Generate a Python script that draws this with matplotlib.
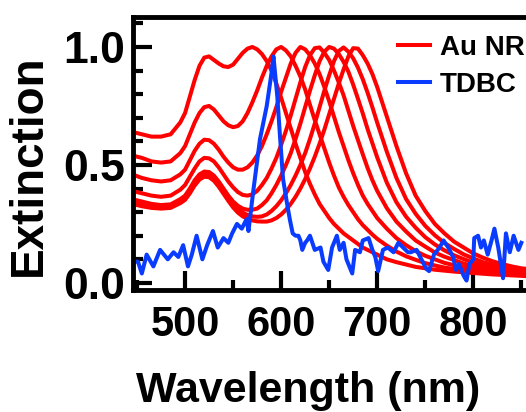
import matplotlib.pyplot as plt
from matplotlib.ticker import MultipleLocator, FormatStrFormatter

plt.rcParams['font.family'] = ['Liberation Sans', 'DejaVu Sans']
plt.rcParams['font.weight'] = 'bold'

# wavelength grid (nm) for the Au nanorod spectra
wavelength_nr = [445, 455, 465, 475, 485, 495] + list(range(500, 705, 5)) + list(range(710, 870, 10))

# normalised extinction of the seven Au NR samples (short -> long LSPR)
nr_1 = [0.64, 0.63, 0.62, 0.62, 0.63, 0.68,
        0.72, 0.79, 0.86, 0.92, 0.955, 0.96, 0.945, 0.93, 0.918, 0.915,
        0.925, 0.95, 0.975, 0.993, 1.0, 0.99, 0.97, 0.94, 0.90, 0.845,
        0.785, 0.72, 0.655, 0.59, 0.53, 0.47, 0.42, 0.375, 0.335, 0.305,
        0.275, 0.25, 0.23, 0.21, 0.195, 0.18, 0.165, 0.15, 0.14, 0.13,
        0.12,
        0.10, 0.088, 0.078, 0.068, 0.062, 0.056, 0.052, 0.048, 0.045, 0.042, 0.039, 0.036, 0.034, 0.032, 0.03, 0.028]
nr_2 = [0.54, 0.53, 0.515, 0.51, 0.515, 0.55,
        0.58, 0.63, 0.68, 0.72, 0.745, 0.75, 0.735, 0.71, 0.685, 0.668,
        0.66, 0.665, 0.685, 0.72, 0.765, 0.815, 0.87, 0.92, 0.96, 0.99,
        1.0, 0.985, 0.96, 0.92, 0.875, 0.82, 0.755, 0.69, 0.63, 0.57,
        0.51, 0.455, 0.405, 0.365, 0.33, 0.3, 0.27, 0.245, 0.225, 0.205,
        0.187,
        0.158, 0.133, 0.113, 0.098, 0.084, 0.074, 0.065, 0.059, 0.054, 0.05, 0.046, 0.043, 0.04, 0.037, 0.034, 0.032]
nr_3 = [0.46, 0.445, 0.435, 0.43, 0.435, 0.46,
        0.48, 0.52, 0.56, 0.59, 0.607, 0.605, 0.59, 0.565, 0.535, 0.51,
        0.49, 0.48, 0.48, 0.49, 0.51, 0.54, 0.58, 0.63, 0.685, 0.745,
        0.81, 0.87, 0.93, 0.975, 1.0, 0.99, 0.965, 0.93, 0.885, 0.83,
        0.77, 0.705, 0.64, 0.58, 0.52, 0.465, 0.415, 0.37, 0.335, 0.305,
        0.275,
        0.23, 0.19, 0.16, 0.135, 0.115, 0.10, 0.085, 0.075, 0.066, 0.059, 0.053, 0.048, 0.044, 0.04, 0.037, 0.034]
nr_4 = [0.39, 0.38, 0.37, 0.365, 0.37, 0.395,
        0.415, 0.45, 0.485, 0.515, 0.53, 0.528, 0.515, 0.49, 0.46, 0.43,
        0.405, 0.385, 0.373, 0.37, 0.375, 0.39, 0.415, 0.445, 0.485, 0.53,
        0.585, 0.645, 0.71, 0.78, 0.85, 0.915, 0.965, 0.995, 0.998, 0.975,
        0.945, 0.90, 0.85, 0.795, 0.73, 0.665, 0.605, 0.545, 0.487, 0.435,
        0.39,
        0.317, 0.26, 0.218, 0.18, 0.154, 0.129, 0.111, 0.097, 0.082, 0.072, 0.063, 0.058, 0.053, 0.049, 0.045, 0.042]
nr_5 = [0.355, 0.345, 0.335, 0.33, 0.333, 0.355,
        0.37, 0.40, 0.435, 0.46, 0.472, 0.47, 0.455, 0.43, 0.40, 0.37,
        0.345, 0.327, 0.315, 0.31, 0.31, 0.315, 0.33, 0.35, 0.38, 0.415,
        0.455, 0.50, 0.55, 0.61, 0.675, 0.745, 0.815, 0.88, 0.94, 0.98,
        1.0, 0.993, 0.97, 0.937, 0.895, 0.84, 0.78, 0.718, 0.652, 0.592,
        0.532,
        0.425, 0.342, 0.281, 0.234, 0.194, 0.163, 0.138, 0.117, 0.101, 0.086, 0.076, 0.066, 0.06, 0.055, 0.05, 0.047]
nr_6 = [0.345, 0.335, 0.328, 0.325, 0.328, 0.348,
        0.362, 0.39, 0.425, 0.45, 0.462, 0.46, 0.445, 0.42, 0.39, 0.36,
        0.333, 0.312, 0.298, 0.288, 0.282, 0.28, 0.282, 0.29, 0.305, 0.325,
        0.35, 0.38, 0.415, 0.455, 0.50, 0.55, 0.61, 0.675, 0.745, 0.815,
        0.88, 0.94, 0.983, 0.998, 0.98, 0.952, 0.912, 0.863, 0.806, 0.744,
        0.679,
        0.556, 0.445, 0.356, 0.293, 0.242, 0.202, 0.169, 0.144, 0.121, 0.104, 0.088, 0.078, 0.068, 0.061, 0.056, 0.052]
nr_7 = [0.335, 0.325, 0.318, 0.315, 0.318, 0.338,
        0.352, 0.38, 0.413, 0.438, 0.45, 0.448, 0.433, 0.408, 0.378, 0.348,
        0.32, 0.298, 0.282, 0.272, 0.265, 0.261, 0.26, 0.26, 0.265, 0.275,
        0.29, 0.31, 0.335, 0.365, 0.40, 0.44, 0.485, 0.535, 0.59, 0.65,
        0.715, 0.78, 0.845, 0.905, 0.96, 0.995, 0.993, 0.965, 0.93, 0.885,
        0.83,
        0.705, 0.58, 0.465, 0.37, 0.305, 0.25, 0.21, 0.175, 0.15, 0.125, 0.107, 0.092, 0.08, 0.07, 0.062, 0.058]
nr_spectra = [nr_1, nr_2, nr_3, nr_4, nr_5, nr_6, nr_7]

# TDBC J-aggregate spectrum (noisy)
wavelength_tdbc = [447, 451, 455, 460, 467, 474, 482, 488, 493, 498, 503, 507, 512, 518, 523, 529,
                   534, 540, 545, 549, 554, 559, 564, 566, 571, 578, 585, 590, 592, 596, 599, 602,
                   606, 609, 612, 615, 618, 620, 622, 625, 627, 630, 635, 641, 644, 649, 653, 658,
                   661, 665, 668, 674, 677, 682, 685, 691, 695, 698, 701, 706, 711, 717, 722, 727,
                   732, 735, 741, 746, 751, 754, 759, 765, 769, 774, 779, 782, 785, 790, 793, 796,
                   800, 801, 805, 808, 811, 815, 819, 822, 826, 831, 834, 838, 842, 847, 850]
extinction_tdbc = [0.09, 0.09, 0.04, 0.12, 0.07, 0.14, 0.10, 0.13, 0.11, 0.16, 0.07, 0.12, 0.20, 0.10, 0.16, 0.22,
                   0.15, 0.19, 0.17, 0.21, 0.25, 0.23, 0.27, 0.22, 0.39, 0.61, 0.75, 0.89, 0.96, 0.79, 0.61, 0.44,
                   0.34, 0.27, 0.21, 0.20, 0.20, 0.18, 0.14, 0.17, 0.18, 0.20, 0.14, 0.15, 0.09, 0.055, 0.15, 0.20,
                   0.14, 0.17, 0.10, 0.04, 0.14, 0.13, 0.18, 0.19, 0.14, 0.11, 0.05, 0.14, 0.15, 0.13, 0.17, 0.15,
                   0.13, 0.13, 0.14, 0.10, 0.06, 0.05, 0.12, 0.15, 0.18, 0.15, 0.11, 0.055, 0.08, 0.03, 0.01, 0.08,
                   0.10, 0.19, 0.20, 0.15, 0.18, 0.12, 0.18, 0.23, 0.15, 0.02, 0.21, 0.13, 0.20, 0.14, 0.17]

fig = plt.figure(figsize=(5.26, 4.12), dpi=100)
ax = fig.add_axes([133 / 526, 1 - 290 / 412, 396 / 526, 273 / 412])

for i, spec in enumerate(nr_spectra):
    ax.plot(wavelength_nr, spec, color='#ff0000', lw=2.9, label='Au NR' if i == 0 else None)
ax.plot(wavelength_tdbc, extinction_tdbc, color='#0a3cff', lw=2.9, label='TDBC')

ax.set_xlim(445.8, 858)
ax.set_ylim(-0.03, 1.127)

ax.xaxis.set_major_locator(MultipleLocator(100))
ax.xaxis.set_minor_locator(MultipleLocator(50))
ax.yaxis.set_major_locator(MultipleLocator(0.5))
ax.yaxis.set_minor_locator(MultipleLocator(0.1))
ax.yaxis.set_major_formatter(FormatStrFormatter('%.1f'))

ax.tick_params(which='major', direction='in', length=14, width=3, pad=6)
ax.tick_params(which='minor', direction='in', length=7, width=3)
ax.tick_params(axis='x', labelsize=30, pad=11)
ax.tick_params(axis='y', labelsize=32, pad=6)
for s in ax.spines.values():
    s.set_linewidth(3.5)

ax.set_xlabel('Wavelength (nm)', fontsize=31, fontweight='bold')
ax.set_ylabel('Extinction', fontsize=33, fontweight='bold')
ax.xaxis.set_label_coords((308 - 133) / 396, -(402 - 290) / 273)
ax.yaxis.set_label_coords(-(133 - 29) / 396, (290 - 165) / 273)
ax.xaxis.label.set_va('baseline')
ax.yaxis.label.set_va('center')

ax.legend(frameon=False, fontsize=20, handlelength=1.15, handletextpad=0.35,
          labelspacing=0.4, borderpad=0, borderaxespad=0,
          loc='upper left', bbox_to_anchor=(398 / 526, 1 - 35 / 412),
          bbox_transform=fig.transFigure)

fig.savefig('out.png', dpi=100)
